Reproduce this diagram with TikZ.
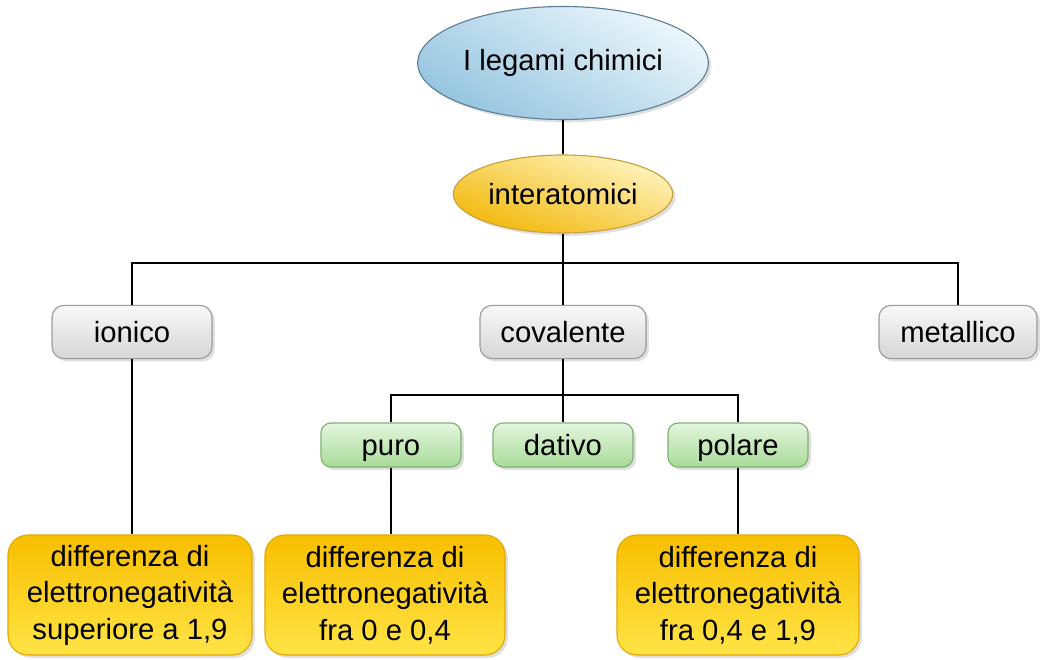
\documentclass[tikz,border=0pt]{standalone}
\usepackage{fontspec}
\setmainfont{Liberation Sans}
\usepackage{tikz}
\usetikzlibrary{positioning, shapes.geometric, shadows}
\definecolor{skyL}{RGB}{236, 246, 251}
\definecolor{sky}{RGB}{150, 197, 224}
\definecolor{skyline}{RGB}{92, 128, 150}
\definecolor{goldL}{RGB}{255, 244, 190}
\definecolor{gold}{RGB}{242, 184, 10}
\definecolor{goldline}{RGB}{200, 160, 60}
\definecolor{greyL}{RGB}{248, 248, 248}
\definecolor{grey}{RGB}{214, 214, 214}
\definecolor{greyline}{RGB}{155, 155, 155}
\definecolor{mintL}{RGB}{228, 246, 222}
\definecolor{mint}{RGB}{168, 219, 152}
\definecolor{mintline}{RGB}{125, 178, 110}
\definecolor{amberT}{RGB}{248, 190, 0}
\definecolor{amberB}{RGB}{255, 228, 70}
\definecolor{amberline}{RGB}{228, 168, 0}

\begin{document}
\begin{tikzpicture}[node distance=1.5cm, every node/.style={font=\fontsize{20.8}{26}\selectfont, inner sep=2pt}]
    \tikzstyle{shade} = [drop shadow={opacity=0.25, shadow xshift=2pt, shadow yshift=-2pt}]
    \tikzstyle{topic} = [ellipse, draw=skyline, line width=0.8pt, top color=skyL, bottom color=sky, shading angle=-30, shade, minimum width=5.6cm, minimum height=2.825cm]
    \tikzstyle{sub} = [ellipse, draw=goldline, line width=0.8pt, top color=goldL, bottom color=gold, shading angle=-20, shade, minimum width=3.925cm, minimum height=1.95cm]
    \tikzstyle{kind} = [rectangle, rounded corners=0.3cm, draw=greyline, line width=0.8pt, top color=greyL, bottom color=grey, shade, minimum width=4cm, minimum height=1.33cm, text height=0.55cm, text depth=0.05cm]
    \tikzstyle{variant} = [rectangle, rounded corners=0.25cm, draw=mintline, line width=0.8pt, top color=mintL, bottom color=mint, shade, minimum width=3.5cm, minimum height=1.1cm, text height=0.55cm, text depth=0.05cm]
    \tikzstyle{note} = [rectangle, rounded corners=0.5cm, draw=amberline, line width=0.8pt, top color=amberT, bottom color=amberB, shade, align=center, minimum width=6.05cm, minimum height=3cm]
    \tikzstyle{link} = [line width=1.3pt, draw=black]

    \useasboundingbox (0,0) rectangle (26,-16.475);

    % top of the map
    \node (legami) [topic] at (14.075,-1.575) {I legami chimici};
    \node (inter) [sub, below of=legami, node distance=3.275cm] {interatomici};

    % kinds of bond
    \node (covalente) [kind, below of=inter, node distance=3.45cm, minimum width=4.15cm] {covalente};
    \node (ionico) [kind, left of=covalente, node distance=10.775cm] {ionico};
    \node (metallico) [kind, right of=covalente, node distance=9.875cm, minimum width=3.95cm] {metallico};

    % covalent bonds
    \node (dativo) [variant, below of=covalente, node distance=2.825cm] {dativo};
    \node (puro) [variant, left of=dativo, node distance=4.3cm] {puro};
    \node (polare) [variant, right of=dativo, node distance=4.375cm] {polare};

    % electronegativity
    \node (diff1) [note, below of=ionico, node distance=6.575cm, xshift=-0.05cm, minimum width=6.1cm] {differenza di\\elettronegatività\\superiore a 1,9};
    \node (diff2) [note, below of=puro, node distance=3.75cm, xshift=-0.15cm, minimum width=6cm] {differenza di\\elettronegatività\\fra 0 e 0,4};
    \node (diff3) [note, below of=polare, node distance=3.75cm] {differenza di\\elettronegatività\\fra 0,4 e 1,9};

    % lines
    \coordinate (bar) at (14.075,-6.575);
    \coordinate (bar2) at (14.075,-9.875);
    \draw [link] (legami) -- (inter);
    \draw [link] (inter) -- (bar);
    \draw [link] (ionico) |- (bar) -| (metallico);
    \draw [link] (bar) -- (covalente);
    \draw [link] (covalente) -- (dativo);
    \draw [link] (puro) |- (bar2) -| (polare);
    \draw [link] (ionico.south) -- (ionico.south |- diff1.north);
    \draw [link] (puro.south) -- (puro.south |- diff2.north);
    \draw [link] (polare) -- (diff3);
\end{tikzpicture}
\end{document}
